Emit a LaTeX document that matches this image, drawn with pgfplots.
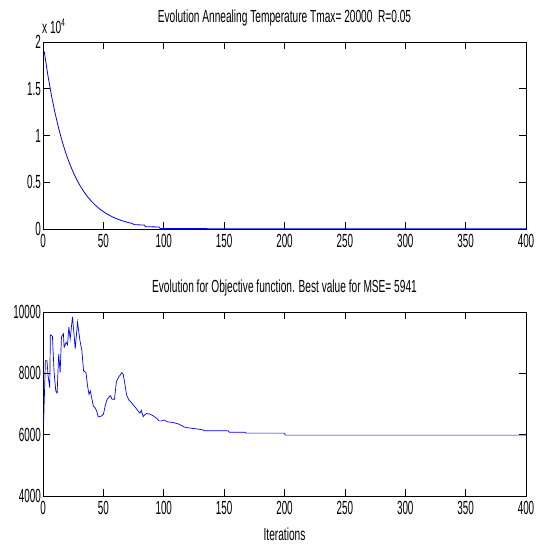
\documentclass[border=0pt]{standalone}
\usepackage{fontspec}
\usepackage{pgfplots}
\pgfplotsset{compat=1.18}
\setmainfont{Liberation Sans}[FakeStretch=0.58]
\newfontfamily\tickfont{Liberation Sans}[FakeStretch=0.52]
\newcommand\tf{\tickfont\fontsize{19}{21}\selectfont}
\newcommand\ttl{\fontsize{17.5}{20}\selectfont}
\definecolor{mblue}{RGB}{0,0,255}
\pgfplotsset{
  mat/.style={
    scale only axis, width=483pt,
    xmin=0, xmax=400,
    xtick={0,50,...,400},
    scaled y ticks=false, scaled x ticks=false,
    tick align=inside, tick pos=both,
    xticklabel pos=lower, yticklabel pos=left,
    major tick length=7pt,
    tick style={black, line width=0.6pt},
    axis line style={black, line width=0.8pt},
    /pgf/number format/assume math mode=true,
    /pgf/number format/1000 sep={},
    ticklabel style={font=\tf},
    xticklabel style={inner sep=0pt, yshift=-5pt},
    yticklabel style={inner sep=0pt, xshift=-2pt},
    title style={at={(0.5,1)}, anchor=base, yshift=14pt, inner sep=0pt, font=\ttl},
    clip=false,
  }
}
\begin{document}
\begin{tikzpicture}
\path[use as bounding box] (0,0) rectangle (538pt,-544pt);
\begin{axis}[mat, at={(43pt,-42pt)}, anchor=north west, height=187pt,
  ymin=0, ymax=20000, ytick={0,5000,10000,15000,20000},
  yticklabels={0,0.5,1,1.5,2},
  title={Evolution Annealing Temperature Tmax= 20000\ \ R=0.05}]
\addplot[mblue, line width=0.8pt] coordinates {
(1,19000) (4,16477) (7,14288) (10,12391) (13,10745) (16,9318) (19,8080)
(22,7007) (25,6076) (28,5269) (31,4569) (34,3962) (37,3436) (40,2980)
(43,2584) (46,2241) (49,1943) (52,1685) (55,1461) (58,1267) (61,1099)
(64,953) (67,826) (70,717) (73,621) (76,460) (84,420) (85,240) (96,220)
(97,60) (150,30) (400,20)
};
\node[anchor=base west, inner sep=0pt, font=\ttl] at (rel axis cs:0,1) [yshift=9pt,xshift=-1pt] {x 10\raisebox{7pt}{\fontsize{11}{12}\selectfont 4}};
\end{axis}
\begin{axis}[mat, at={(43pt,-312pt)}, anchor=north west, height=184pt,
  ymin=4000, ymax=10000, ytick={4000,6000,8000,10000},
  title={Evolution for Objective function. Best value for MSE= 5941},
  xlabel={Iterations},
  xlabel style={at={(0.5,0)}, anchor=base, yshift=-44pt, inner sep=0pt, font=\ttl}]
\addplot[mblue, line width=0.7pt] coordinates {
(0.5,6380) (2,8410) (3.3,8410) (4.2,7920) (5.6,7530) (6.1,9255) (7.8,9210)
(9.2,8030) (10.6,7425) (11.7,7350) (13,8630) (14.2,8030) (15.3,9180)
(16.9,9290) (17.5,8850) (19.2,9010) (20.3,8930) (21.4,9510) (22.5,9120)
(24.4,9840) (25.8,9230) (26.7,8800) (28.6,9670) (30.6,9070) (32.2,8740)
(33.6,8080) (35.6,8030) (36.9,7590) (38.1,7315) (39.2,7425) (40.3,7205)
(41.7,6930) (43.1,6880) (44.4,6770) (45.8,6580) (48,6600) (50,6660)
(51.7,6970) (53.1,7155) (54.4,7210) (55.8,7274) (57.2,7155) (59.2,7155)
(60.8,7730) (62.8,7890) (64.2,7950) (65,8020) (66.4,7970) (67.5,7730)
(69.2,7300) (71.1,7130) (73,7060) (74.7,6970) (76.7,6880) (78.6,6780)
(80.3,6700) (81.4,6790) (83,6590) (84.4,6650) (85.8,6690) (88.6,6670)
(91.4,6610) (94.2,6530) (96.1,6450) (98.3,6450) (100.3,6480) (103,6420)
(107.2,6400) (111.4,6360) (114.7,6300) (116.9,6250) (119.2,6230)
(123,6210) (126.7,6190) (132.2,6160) (133.6,6130) (153,6130) (154.4,6080)
(166.9,6080) (168.3,6050) (199.7,6050) (200.8,5985) (400,5985)
};
\end{axis}
\end{tikzpicture}
\end{document}
